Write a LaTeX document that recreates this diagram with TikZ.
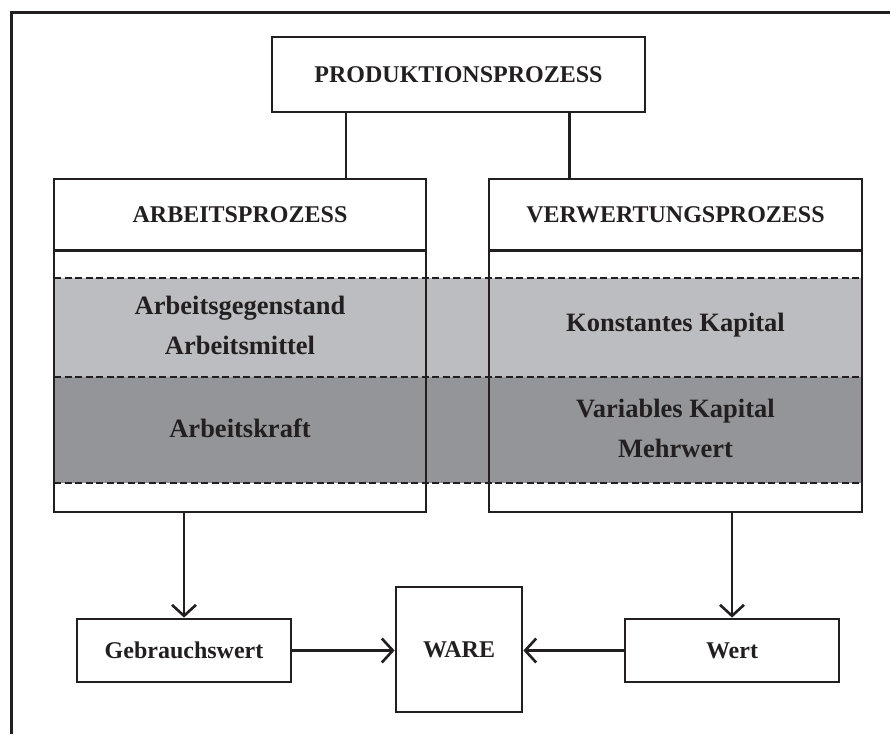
\documentclass[tikz,border=0pt]{standalone}
\usepackage{fontspec}
\setmainfont{Liberation Serif}
\usetikzlibrary{arrows.meta,calc}
\definecolor{ink}{HTML}{231F20}
\definecolor{lightband}{HTML}{BCBDC0}
\definecolor{darkband}{HTML}{939598}
\tikzset{
  box/.style={draw=ink, line width=2.8pt, rectangle, inner sep=0pt},
  lbl/.style={text=ink, font=\bfseries\fontsize{24}{28}\selectfont, align=center, inner sep=0pt},
  bandlbl/.style={text=ink, font=\bfseries\fontsize{26.5}{40}\selectfont, align=center, inner sep=0pt},
  conn/.style={draw=ink, line width=2.6pt},
  arr/.style={draw=ink, line width=2.6pt, -{Straight Barb[length=11pt,width=24pt,line width=2.6pt]}},
  dash line/.style={draw=ink, line width=2pt, dash pattern=on 7pt off 3.5pt},
}
\begin{document}
\begin{tikzpicture}[x=1pt,y=-1pt]
\useasboundingbox (0,0) rectangle (890,734);
% outer frame (only left and top visible)
\draw[draw=ink, line width=3pt] (890,12) -- (11,12) -- (11,734);

% bands
\fill[lightband] (54,278) rectangle (862,377);
\fill[darkband] (54,377) rectangle (862,483);
\draw[dash line] (54,278) -- (862,278);
\draw[dash line] (54,377) -- (862,377);
\draw[dash line] (54,483) -- (862,483);

% boxes
\node[box, minimum width=373pt, minimum height=75pt] (prod) at (458.5,74.5) {};
\node[lbl] at (prod.center) {PRODUKTIONSPROZESS};

\node[box, minimum width=372pt, minimum height=333pt] (arb) at (240,345.5) {};
\node[box, minimum width=373pt, minimum height=333pt] (verw) at (675.5,345.5) {};
\draw[conn] ([yshift=-73pt]arb.north west) -- ([yshift=-73pt]arb.north east);
\draw[conn] ([yshift=-73pt]verw.north west) -- ([yshift=-73pt]verw.north east);

\node[lbl] (arbh) at (240,215) {ARBEITSPROZESS};
\node[lbl] (verwh) at (675.5,215) {VERWERTUNGSPROZESS};

\node[bandlbl] (ag) at (240,325) {Arbeitsgegenstand\\Arbeitsmittel};
\node[bandlbl] (ak) at (240,428) {Arbeitskraft};
\node[bandlbl] (kk) at (675.5,325) {Konstantes Kapital};
\node[bandlbl] (vk) at (675.5,428) {Variables Kapital\\Mehrwert};

% bottom boxes
\node[box, minimum width=214pt, minimum height=63pt] (gebr) at (184,650.5) {};
\node[lbl] at (gebr.center) {Gebrauchswert};
\node[box, minimum width=126pt, minimum height=125pt] (ware) at (459,649.5) {};
\node[lbl] at (ware.center) {WARE};
\node[box, minimum width=214pt, minimum height=63pt] (wert) at (732,650.5) {};
\node[lbl] at (wert.center) {Wert};

% connectors
\coordinate (pl) at ($(prod.south west)!0.201!(prod.south east)$);
\coordinate (pr) at ($(prod.south west)!0.796!(prod.south east)$);
\draw[conn] (pl) -- (pl |- arb.north);
\draw[conn] (pr) -- (pr |- verw.north);

\draw[arr] (arb.south -| gebr.north) -- (gebr.north);
\draw[arr] (verw.south -| wert.north) -- (wert.north);
\draw[arr] (gebr.east) -- (gebr.east -| ware.west);
\draw[arr] (wert.west) -- (wert.west -| ware.east);
\end{tikzpicture}
\end{document}
